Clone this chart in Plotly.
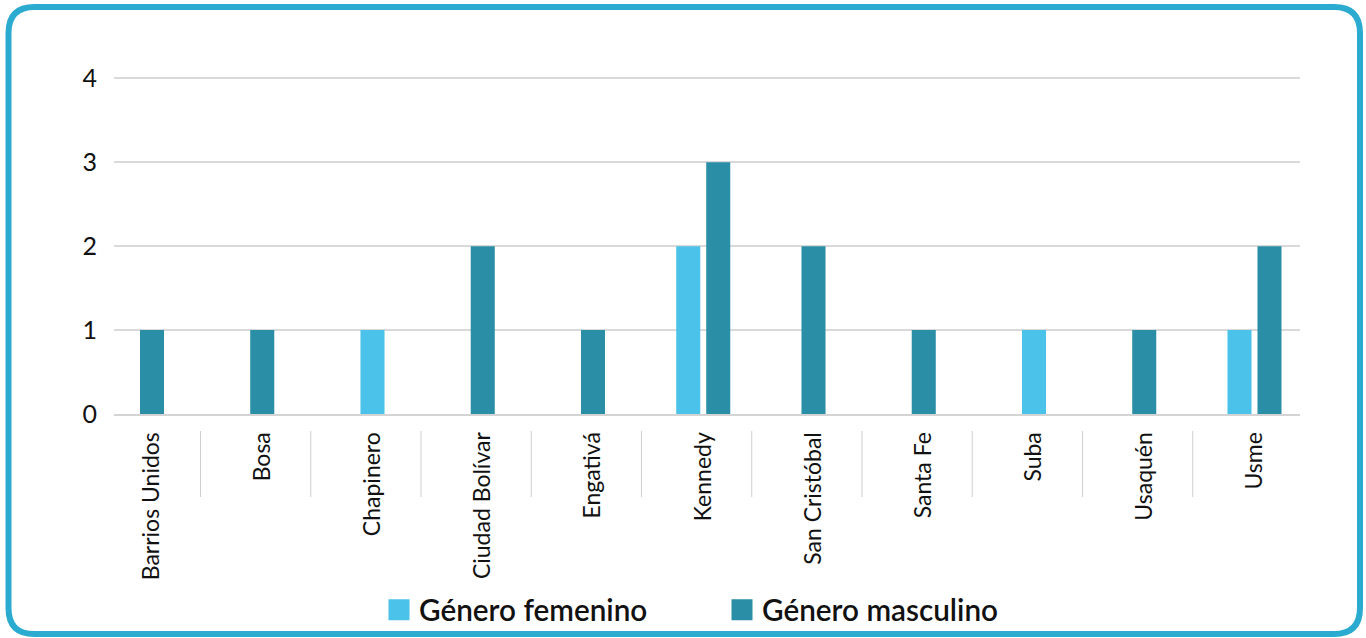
import plotly.graph_objects as go

# ---- data ----
localidades = ["Barrios Unidos", "Bosa", "Chapinero", "Ciudad Bolívar", "Engativá",
               "Kennedy", "San Cristóbal", "Santa Fe", "Suba", "Usaquén", "Usme"]
femenino = [0, 0, 1, 0, 0, 2, 0, 0, 1, 0, 1]
masculino = [1, 1, 0, 2, 1, 3, 2, 1, 0, 1, 2]
series_names = ["Género femenino", "Género masculino"]
y_ticks = [0, 1, 2, 3, 4]

# ---- style ----
W, H = 1366, 638
L, R, T, B = 114, 66, 70, 224
C_FEM = "#4AC2E9"
C_MAS = "#2A8EA7"
C_BORDER = "#2AABCF"
FONT = "Lato"

BW = 0.218   # bar width (category units)
GAP = 0.054  # gap between paired bars
X0_PX, STEP_PX = 152, 110.25  # pixel of first category centre, category spacing

def offsets(a, b):
    oa, ob = [], []
    for va, vb in zip(a, b):
        if va and vb:
            oa.append(-(BW + GAP / 2))
            ob.append(GAP / 2)
        else:
            oa.append(-BW / 2)
            ob.append(-BW / 2)
    return oa, ob

off_f, off_m = offsets(femenino, masculino)
xs = list(range(len(localidades)))

fig = go.Figure()
fig.add_trace(go.Bar(x=xs, y=femenino, width=BW, offset=off_f, marker_color=C_FEM,
                     marker_line_width=0, name=series_names[0], showlegend=False))
fig.add_trace(go.Bar(x=xs, y=masculino, width=BW, offset=off_m, marker_color=C_MAS,
                     marker_line_width=0, name=series_names[1], showlegend=False))

# legend entries
for nm, col in zip(series_names, [C_FEM, C_MAS]):
    fig.add_trace(go.Scatter(x=[None], y=[None], mode="markers", name=nm,
                             marker=dict(symbol="square", size=16, color=col,
                                         line=dict(color=col, width=5))))

def px2paper_x(px):
    return (px - L) / (W - L - R)

def px2paper_y(py):
    return (H - B - py) / (H - T - B)

# rounded border
x0, y0, x1, y1, r = 8.5, 7, 1360, 634, 26
def P(px, py):
    return f"{px2paper_x(px):.5f},{px2paper_y(py):.5f}"
path = (f"M {P(x0 + r, y0)} L {P(x1 - r, y0)} Q {P(x1, y0)} {P(x1, y0 + r)} "
        f"L {P(x1, y1 - r)} Q {P(x1, y1)} {P(x1 - r, y1)} "
        f"L {P(x0 + r, y1)} Q {P(x0, y1)} {P(x0, y1 - r)} "
        f"L {P(x0, y0 + r)} Q {P(x0, y0)} {P(x0 + r, y0)} Z")
shapes = [dict(type="path", xref="paper", yref="paper", path=path,
               line=dict(color=C_BORDER, width=6), fillcolor="rgba(0,0,0,0)", layer="above")]

# category separators
for i in range(len(localidades) - 1):
    shapes.append(dict(type="line", xref="x", yref="paper",
                       x0=i + 0.44, x1=i + 0.44, y0=px2paper_y(431), y1=px2paper_y(497),
                       line=dict(color="#CFCFCF", width=1)))

fig.update_layout(
    width=W, height=H,
    margin=dict(l=L, r=R, t=T, b=B, autoexpand=False),
    paper_bgcolor="white", plot_bgcolor="white",
    barmode="overlay",
    font=dict(family=FONT, color="#111111"),
    shapes=shapes,
    legend=dict(orientation="h", x=px2paper_x(722), xanchor="center",
                y=px2paper_y(610), yanchor="middle", bgcolor="rgba(0,0,0,0)",
                font=dict(size=29.7, family=FONT, color="#111111", weight=600),
                entrywidth=298, itemclick=False),
    xaxis=dict(range=[(L - X0_PX) / STEP_PX, (W - R - X0_PX) / STEP_PX],
               tickmode="array", tickvals=xs, ticktext=localidades,
               tickangle=-90, tickfont=dict(size=23, family=FONT, color="#111111"),
               ticks="", ticklabelstandoff=7,
               showgrid=False, showline=True, linecolor="#D4D4D4", linewidth=2,
               zeroline=False, fixedrange=True),
    yaxis=dict(range=[0, 4.1], tickmode="array", tickvals=y_ticks,
               tickfont=dict(size=25, family=FONT, color="#111111"),
               ticks="", ticklabelstandoff=16,
               showgrid=True, gridcolor="#D9D9D9", gridwidth=1.5,
               zeroline=False, showline=False, fixedrange=True),
)

fig.write_html("out.html", config={"displayModeBar": False},
               post_script="document.body.style.margin='0';")
